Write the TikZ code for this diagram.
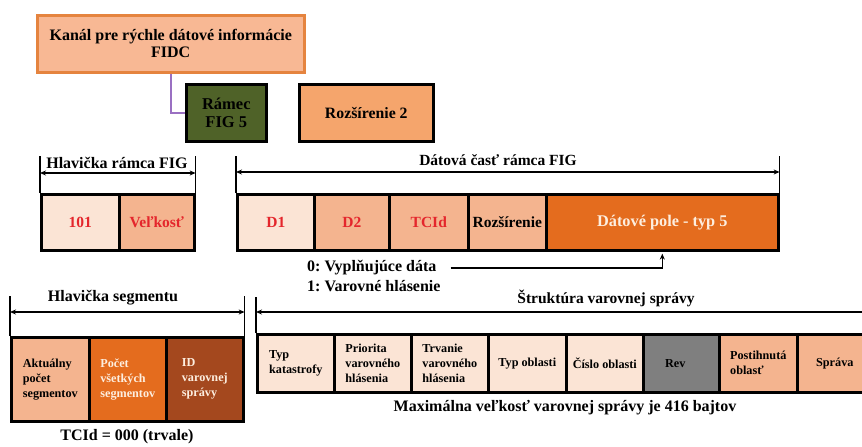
\documentclass[tikz,border=0pt]{standalone}
\usepackage{fontspec}
\setmainfont{Liberation Serif}
\usetikzlibrary{arrows.meta,positioning}

\definecolor{peach}{HTML}{F8B894}
\definecolor{peachborder}{HTML}{E5843F}
\definecolor{framegreen}{HTML}{4F6228}
\definecolor{extorange}{HTML}{F5A56C}
\definecolor{cellpale}{HTML}{FBE4D5}
\definecolor{cellsalmon}{HTML}{F4B48F}
\definecolor{cellorange}{HTML}{E46C1E}
\definecolor{cellbrown}{HTML}{A4481E}
\definecolor{cellgray}{HTML}{7F7F7F}
\definecolor{labelred}{HTML}{E4262C}
\definecolor{linkpurple}{HTML}{9A70C2}
\definecolor{lighttext}{HTML}{FDEEDF}

\tikzset{
  cell/.style={draw=black, line width=2.6pt, anchor=north west, inner sep=2pt,
               font=\bfseries\fontsize{15.5}{17}\selectfont, align=center},
  smallcell/.style={cell, font=\bfseries\fontsize{12.2}{15}\selectfont},
  label/.style={font=\bfseries\fontsize{16}{18}\selectfont, inner sep=0pt},
  dim/.style={line width=1.4pt, {Stealth[length=6pt,width=5pt]}-{Stealth[length=6pt,width=5pt]}},
  tick/.style={line width=1.4pt},
}

\begin{document}
\frenchspacing
\begin{tikzpicture}[x=1pt,y=-1pt]
\useasboundingbox (0,0) rectangle (862,447);

% channel and frame type
\node[draw=peachborder, fill=peach, line width=2.5pt, anchor=north west,
      minimum width=267, minimum height=57, align=center,
      font=\bfseries\fontsize{16}{17}\selectfont] (fidc) at (36,14)
      {Kanál pre rýchle dátové informácie\\FIDC};
\node[cell, fill=framegreen, minimum width=80, minimum height=57,
      font=\bfseries\fontsize{16.5}{18}\selectfont] (ramec) at (185,83) {Rámec\\FIG 5};
\node[cell, fill=extorange, minimum width=134, minimum height=57,
      font=\bfseries\fontsize{15.8}{18}\selectfont] (roz2) at (298,83) {Rozšírenie 2};
\draw[linkpurple, line width=2.5pt] (fidc.south) |- (ramec.west);

% FIG frame header
\node[cell, fill=cellpale, text=labelred, minimum width=78, minimum height=56] (h101) at (40,193) {101};
\node[cell, fill=cellsalmon, text=labelred, minimum width=75, minimum height=56] (hsize) at (118,193) {Veľkosť};
\draw[tick] (h101.north west) -- ++(0,-37);
\draw[tick] (hsize.north east) -- ++(0,-37);
\draw[dim] ([yshift=20pt]h101.north west) -- ([yshift=20pt]hsize.north east);
\node[label] (hlabel) at (117,163) {Hlavička rámca FIG};

% FIG frame data part
\node[cell, fill=cellpale, text=labelred, minimum width=77, minimum height=56] (d1) at (236,193) {D1};
\node[cell, fill=cellsalmon, text=labelred, minimum width=75, minimum height=56] (d2) at (313,193) {D2};
\node[cell, fill=cellsalmon, text=labelred, minimum width=79, minimum height=56] (tcid) at (388,193) {TCId};
\node[cell, fill=cellsalmon, minimum width=78, minimum height=56] (rozs) at (467,193) {Rozšírenie};
\node[cell, fill=cellorange, text=lighttext, minimum width=232, minimum height=56,
      font=\bfseries\fontsize{16.3}{18}\selectfont] (pole) at (545,193) {Dátové pole - typ 5};
\draw[tick] (d1.north west) -- ++(0,-37);
\draw[tick] (pole.north east) -- ++(0,-37);
\draw[dim] ([yshift=21pt]d1.north west) -- ([yshift=21pt]pole.north east);
\node[label, font=\bfseries\fontsize{15.5}{17}\selectfont] (dlabel) at (498,160) {Dátová časť rámca FIG};

% TCId values
\node[label, anchor=west] (t0) at (307,268) {0: Vyplňujúce dáta};
\node[label, anchor=west] (t1) at (307,286) {1: Varovné hlásenie};
\draw[line width=1.4pt, -{Stealth[length=6pt,width=5pt]}] ([xshift=14pt]t0.east) -| ([yshift=-2pt]pole.south);

% segment header
\node[smallcell, fill=cellsalmon, minimum width=78, minimum height=84, align=left] (s1) at (10,336) {Aktuálny\\počet\\segmentov};
\node[smallcell, fill=cellorange, text=lighttext, minimum width=77, minimum height=84, align=left] (s2) at (88,336) {Počet\\všetkých\\segmentov};
\node[smallcell, fill=cellbrown, text=lighttext, minimum width=77, minimum height=84, align=left] (s3) at (165,336) {ID\\varovnej\\správy};
\draw[tick] (s1.north west) -- ++(0,-40);
\draw[tick] (s3.north east) -- ++(0,-40);
\draw[dim] ([yshift=24pt]s1.north west) -- ([yshift=24pt]s3.north east);
\node[label] (slabel) at (113,298) {Hlavička segmentu};
\node[label] (tcval) at (127,437) {TCId = 000 (trvale)};

% warning message structure
\node[smallcell, fill=cellpale, minimum width=77, minimum height=58, align=left] (w1) at (256,333) {Typ\\katastrofy};
\node[smallcell, fill=cellpale, minimum width=77, minimum height=58, align=left] (w2) at (333,333) {Priorita\\varovného\\hlásenia};
\node[smallcell, fill=cellpale, minimum width=77, minimum height=58, align=left] (w3) at (410,333) {Trvanie\\varovného\\hlásenia};
\node[smallcell, fill=cellpale, minimum width=78, minimum height=58] (w4) at (487,333) {Typ oblasti};
\node[smallcell, fill=cellpale, minimum width=77, minimum height=58] (w5) at (565,333) {Číslo oblasti};
\node[smallcell, fill=cellgray, minimum width=76, minimum height=58] (w6) at (642,333) {Rev\hspace{12pt}};
\node[smallcell, fill=cellsalmon, minimum width=78, minimum height=58, align=left] (w7) at (718,333) {Postihnutá\\oblasť};
\node[smallcell, fill=cellsalmon, minimum width=75, minimum height=58] (w8) at (796,333) {Správa};
\draw[tick] (w1.north west) -- ++(0,-36);
\coordinate (wend) at (862,312);
\draw[line width=1.4pt, {Stealth[length=6pt,width=5pt]}-] (w1.north west |- wend) -- (wend);
\node[label, font=\bfseries\fontsize{15.5}{17}\selectfont] (wlabel) at (606,298) {Štruktúra varovnej správy};
\node[label] (wmax) at (565,408) {Maximálna veľkosť varovnej správy je 416 bajtov};
\end{tikzpicture}
\end{document}
